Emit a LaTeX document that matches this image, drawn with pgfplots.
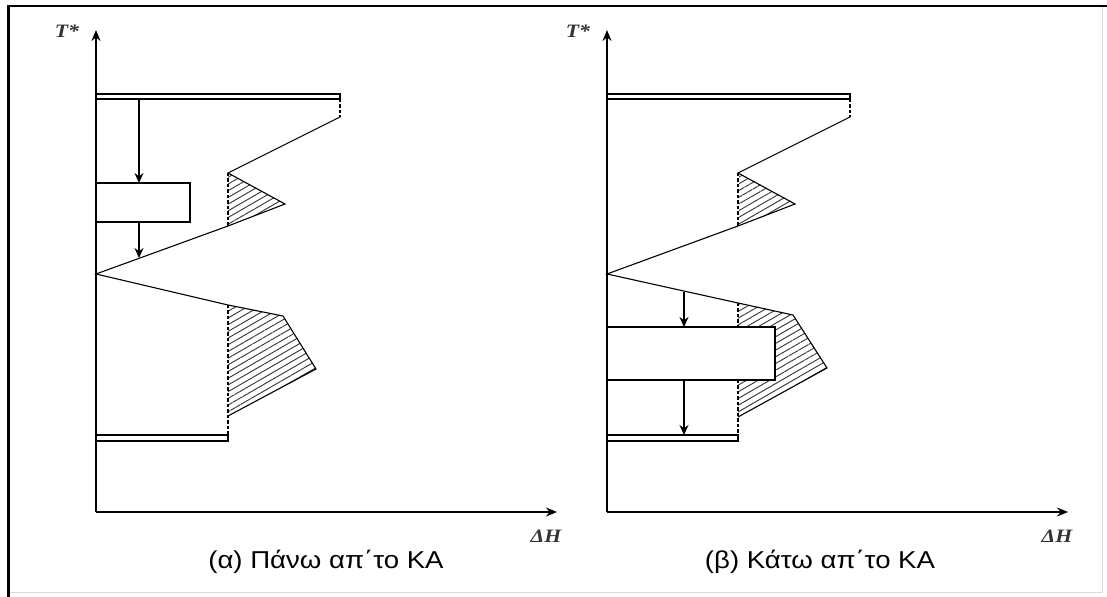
\documentclass[border=0pt]{standalone}
\usepackage{fontspec}
\setmainfont{Liberation Sans}
\newfontfamily\captionfont[FakeStretch=1.13]{Liberation Sans}
\newfontfamily\labelfont[FakeStretch=1.15]{Liberation Serif}
\usepackage{pgfplots}
\pgfplotsset{compat=1.18}
\usetikzlibrary{arrows.meta,patterns.meta}

\pgfplotsset{
  gcc/.style={
    scale only axis, width=461bp, height=482bp,
    xmin=0, xmax=46.1, ymin=0, ymax=48.2,
    axis lines=left, ticks=none, clip=false,
    axis line style={line width=1.4bp, -{Stealth[length=11bp,width=9bp]}},
    anchor=south west,
  },
  curve/.style={black, line width=1.1bp, mark=none},
  bound/.style={black, line width=1.2bp, mark=none, dash pattern=on 3.5bp off 2bp},
  hatch/.style={draw=none, mark=none, pattern={Lines[angle=30,distance=5.8bp,line width=0.9bp]}, pattern color=black!80},
  bar/.style={black, line width=1.1bp, fill=white, mark=none},
  flow/.style={black, line width=1.4bp, mark=none, -{Stealth[length=10bp,width=9bp]}},
}
\tikzset{
  qlabel/.style={font=\labelfont\bfseries\itshape\fontsize{19}{21}\selectfont, text=black!80},
  subcaption/.style={font=\captionfont\fontsize{24.5}{28}\selectfont, anchor=base},
}

\begin{document}
\begin{tikzpicture}
\path[use as bounding box] (0,0) rectangle (1107bp,597bp);
% page frame
\draw[black!15, line width=1bp] (1102bp,591bp) -- (1102bp,4bp) -- (8bp,4bp);
\draw[black, line width=2.5bp] (8.5bp,0) -- (8.5bp,591bp) -- (1107bp,591bp);

% (a) utility placed above the pinch
\begin{axis}[gcc, at={(96bp,85bp)}]
  % heat pockets
  \addplot[hatch] coordinates {(13.2,33.9) (18.9,30.8) (13.2,28.6)} -- cycle;
  \addplot[hatch] coordinates {(13.2,20.7) (18.7,19.6) (22.0,14.3) (13.2,9.6)} -- cycle;
  % grand composite curve
  \addplot[curve] coordinates {(24.4,39.5) (13.2,33.9) (18.9,30.8) (13.2,28.6) (0,23.8)
                               (13.2,20.7) (18.7,19.6) (22.0,14.3) (13.2,9.6)};
  \addplot[bound] coordinates {(24.4,41.3) (24.4,39.5)};
  \addplot[bound] coordinates {(13.2,33.9) (13.2,28.6)};
  \addplot[bound] coordinates {(13.2,20.7) (13.2,7.7)};
  % hot and cold utility
  \addplot[bar] coordinates {(0,41.3) (24.4,41.3) (24.4,41.8) (0,41.8)} -- cycle;
  \addplot[bar] coordinates {(0,7.1) (13.2,7.1) (13.2,7.7) (0,7.7)} -- cycle;
  % engine
  \addplot[bar, line width=1.3bp] coordinates {(0,29.0) (9.4,29.0) (9.4,32.9) (0,32.9)} -- cycle;
  \addplot[flow] coordinates {(4.3,41.3) (4.3,32.9)};
  \addplot[flow] coordinates {(4.3,29.0) (4.3,25.4)};
  \node[qlabel] at (axis cs:-2.9,48.1) {T*};
  \node[qlabel] at (axis cs:45.0,-2.4) {ΔH};
  \node[subcaption] at (axis cs:23.0,-5.6) {(α) Πάνω απ΄το ΚΑ};
\end{axis}

% (b) utility placed below the pinch
\begin{axis}[gcc, at={(607bp,85bp)}]
  \addplot[hatch] coordinates {(13.2,33.9) (18.9,30.8) (13.2,28.6)} -- cycle;
  \addplot[hatch] coordinates {(13.1,20.9) (18.6,19.7) (22.0,14.4) (13.1,9.5)} -- cycle;
  \addplot[curve] coordinates {(24.3,39.5) (13.1,33.9) (18.8,30.8) (13.1,28.6) (0,23.8)
                               (13.1,20.9) (18.6,19.7) (22.0,14.4) (13.1,9.5)};
  \addplot[bound] coordinates {(24.3,41.3) (24.3,39.5)};
  \addplot[bound] coordinates {(13.1,33.9) (13.1,28.6)};
  \addplot[bound] coordinates {(13.1,20.9) (13.1,7.7)};
  \addplot[bar] coordinates {(0,41.3) (24.3,41.3) (24.3,41.8) (0,41.8)} -- cycle;
  \addplot[bar] coordinates {(0,7.1) (13.1,7.1) (13.1,7.7) (0,7.7)} -- cycle;
  \addplot[bar, line width=1.3bp] coordinates {(0,13.2) (16.8,13.2) (16.8,18.5) (0,18.5)} -- cycle;
  \addplot[flow] coordinates {(7.7,22.0) (7.7,18.5)};
  \addplot[flow] coordinates {(7.7,13.2) (7.7,7.7)};
  \node[qlabel] at (axis cs:-2.9,48.1) {T*};
  \node[qlabel] at (axis cs:45.0,-2.4) {ΔH};
  \node[subcaption] at (axis cs:21.3,-5.6) {(β) Κάτω απ΄το ΚΑ};
\end{axis}
\end{tikzpicture}
\end{document}
